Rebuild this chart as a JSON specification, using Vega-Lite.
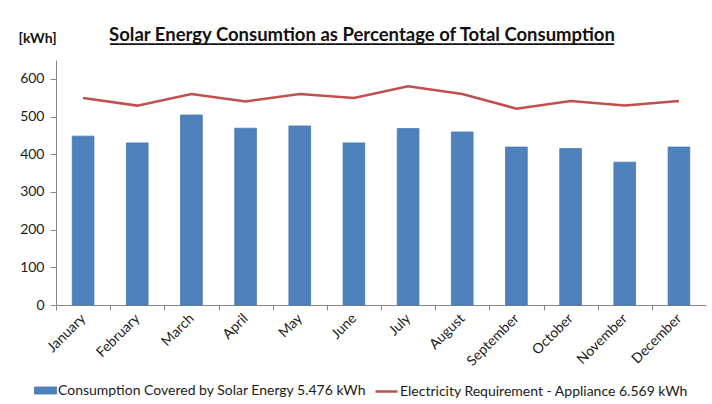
{
  "$schema": "https://vega.github.io/schema/vega-lite/v6.json",
  "width": 650,
  "height": 245,
  "autosize": {"type": "none"},
  "padding": {"left": 56, "top": 60, "right": 6, "bottom": 99},
  "background": "white",
  "title": {
    "text": "Solar Energy Consumtion as Percentage of Total Consumption",
    "subtitle": "________________________________________________________",
    "font": "Lato",
    "fontSize": 18.5,
    "fontWeight": "bold",
    "color": "#111111",
    "subtitleFont": "DejaVu Sans",
    "subtitleFontSize": 18,
    "subtitleFontWeight": "bold",
    "subtitleColor": "#111111",
    "subtitlePadding": -17,
    "anchor": "middle",
    "frame": "bounds",
    "dy": 18
  },
  "data": {
    "values": [
      {"month": "January", "solar": 448, "requirement": 549},
      {"month": "February", "solar": 430, "requirement": 529},
      {"month": "March", "solar": 504, "requirement": 560},
      {"month": "April", "solar": 469, "requirement": 540},
      {"month": "May", "solar": 475, "requirement": 560},
      {"month": "June", "solar": 430, "requirement": 549},
      {"month": "July", "solar": 468, "requirement": 580},
      {"month": "August", "solar": 459, "requirement": 560},
      {"month": "September", "solar": 419, "requirement": 521},
      {"month": "October", "solar": 415, "requirement": 541},
      {"month": "November", "solar": 379, "requirement": 529},
      {"month": "December", "solar": 419, "requirement": 541}
    ]
  },
  "encoding": {
    "x": {
      "field": "month",
      "type": "nominal",
      "sort": null,
      "scale": {"paddingInner": 0.6, "paddingOuter": 0.3},
      "axis": {
        "title": null,
        "labelAngle": -45,
        "labelAlign": "right",
        "labelBaseline": "middle",
        "labelPadding": 6,
        "tickOffset": -27.083,
        "labelOffset": 27.083,
        "tickSize": 5,
        "domainColor": "#868686",
        "tickColor": "#868686"
      }
    }
  },
  "layer": [
    {
      "mark": {"type": "bar", "stroke": "#4577b3", "strokeWidth": 0.8},
      "encoding": {
        "y": {
          "field": "solar",
          "type": "quantitative",
          "scale": {"domain": [0, 650], "nice": false},
          "axis": {
            "values": [0, 100, 200, 300, 400, 500, 600],
            "grid": false,
            "title": "[kWh]",
            "titleAngle": 0,
            "titleAlign": "left",
            "titleBaseline": "middle",
            "titleX": -38,
            "titleY": -22,
            "titleFont": "Lato",
            "titleFontSize": 14,
            "titleFontWeight": "bold",
            "titleColor": "#111111",
            "tickSize": 6,
            "labelPadding": 6,
            "domainColor": "#868686",
            "tickColor": "#868686"
          }
        },
        "fill": {
          "datum": "Consumption Covered by Solar Energy 5.476 kWh",
          "type": "nominal",
          "scale": {"range": ["#4F81BD"]},
          "legend": {
            "title": null,
            "orient": "none",
            "legendX": -22,
            "legendY": 319,
            "symbolType": "M-1,-0.32H1V0.32H-1Z",
            "symbolSize": 484,
            "symbolStrokeColor": "#4577b3",
            "symbolStrokeWidth": 0.8,
            "symbolOpacity": 1,
            "labelOffset": 1,
            "labelLimit": 500
          }
        }
      }
    },
    {
      "mark": {"type": "line", "strokeWidth": 2.5},
      "encoding": {
        "y": {"field": "requirement", "type": "quantitative"},
        "stroke": {
          "datum": "Electricity Requirement - Appliance 6.569 kWh",
          "type": "nominal",
          "scale": {"range": ["#C0504D"]},
          "legend": {
            "title": null,
            "orient": "none",
            "legendX": 318,
            "legendY": 319,
            "symbolType": "M-1,0H1",
            "symbolSize": 484,
            "symbolStrokeWidth": 2.5,
            "symbolFillColor": "transparent",
            "labelOffset": 1,
            "labelLimit": 500
          }
        }
      }
    }
  ],
  "config": {
    "view": {"stroke": null},
    "font": "Lato",
    "axis": {
      "labelFont": "Lato",
      "labelFontSize": 14,
      "labelColor": "#1a1a1a"
    },
    "legend": {
      "labelFont": "Lato",
      "labelFontSize": 14,
      "labelColor": "#1a1a1a"
    }
  }
}
